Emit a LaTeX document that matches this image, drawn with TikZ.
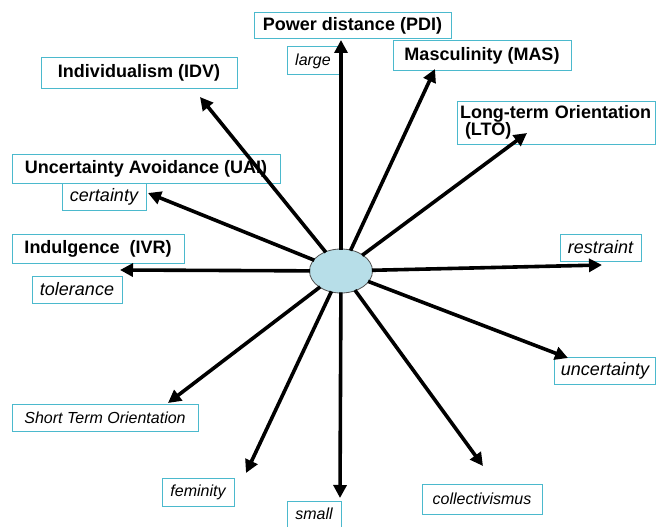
\documentclass[tikz,border=0pt]{standalone}
\usepackage{fontspec}
\setmainfont{Liberation Sans}
\usetikzlibrary{arrows.meta,shapes.geometric}
\definecolor{boxcol}{RGB}{75,185,205}
\definecolor{ellfill}{RGB}{183,222,232}
\definecolor{ellline}{RGB}{80,80,80}
\tikzset{
  lbox/.style={draw=boxcol, line width=1pt, inner sep=0pt, align=center},
  bold/.style={lbox, font=\bfseries\fontsize{18}{21}\selectfont},
  ital/.style={lbox, font=\itshape\fontsize{16}{19}\selectfont},
  italbig/.style={lbox, font=\itshape\fontsize{18}{21}\selectfont},
  ray/.style={line width=3.6pt, -{Triangle[length=13pt,width=13pt]}, shorten <=-1pt}
}
\begin{document}
\begin{tikzpicture}[x=1pt,y=-1pt]
\useasboundingbox (0,0) rectangle (656,527);
% labels
\node[bold, minimum width=197, minimum height=26] (pdi) at (352.5,26) {Power distance (PDI)};
\node[ital, minimum width=52, minimum height=28] (large) at (313,61) {large};
\node[bold, minimum width=178, minimum height=30] (mas) at (482,56) {Masculinity (MAS)};
\node[bold, minimum width=198, minimum height=43, text width=192, align=left, inner xsep=3pt,
      font=\bfseries\fontsize{18}{17}\selectfont] (lto) at (556,122.5) {Long-term Orientation\\\hspace*{5pt}(LTO)};
\node[bold, minimum width=196, minimum height=30] (idv) at (139,73) {Individualism (IDV)};
\node[bold, minimum width=268, minimum height=29] (uai) at (146,168.5) {Uncertainty Avoidance (UAI)};
\node[italbig, minimum width=84, minimum height=27] (cert) at (104,196.5) {certainty};
\node[bold, minimum width=172, minimum height=29] (ivr) at (98,248.5) {Indulgence~~(IVR)};
\node[italbig, minimum width=90, minimum height=27] (tol) at (77,289.5) {tolerance};
\node[italbig, minimum width=81, minimum height=27] (res) at (600.5,247.5) {restraint};
\node[italbig, minimum width=101, minimum height=27] (unc) at (605,370.5) {uncertainty};
\node[ital, minimum width=186, minimum height=27] (sto) at (105,417.5) {Short Term Orientation};
\node[ital, minimum width=72, minimum height=28] (fem) at (198,492) {feminity};
\node[ital, minimum width=54, minimum height=26] (sma) at (314,514) {small};
\node[ital, minimum width=120, minimum height=30] (col) at (482,499) {collectivismus};
% centre
\node[ellipse, draw=ellline, line width=0.8pt, fill=ellfill, minimum width=63, minimum height=44, inner sep=0pt] (e) at (341,271) {};
% arrow tips
\coordinate (tPDI) at (341,40);
\coordinate (tMAS) at (435,69);
\coordinate (tLTO) at (527,133);
\coordinate (tIDV) at (200,97);
\coordinate (tUAI) at (148,193);
\coordinate (tIVR) at (120,270);
\coordinate (tRES) at (602,265);
\coordinate (tUNC) at (568,358);
\coordinate (tSTO) at (168,403);
\coordinate (tFEM) at (246,473);
\coordinate (tSMA) at (340,498);
\coordinate (tCOL) at (483,466);
\foreach \t in {tPDI,tMAS,tLTO,tIDV,tUAI,tIVR,tRES,tUNC,tSTO,tFEM,tSMA,tCOL}
  \draw[ray] (e) -- (\t);
\end{tikzpicture}
\end{document}
